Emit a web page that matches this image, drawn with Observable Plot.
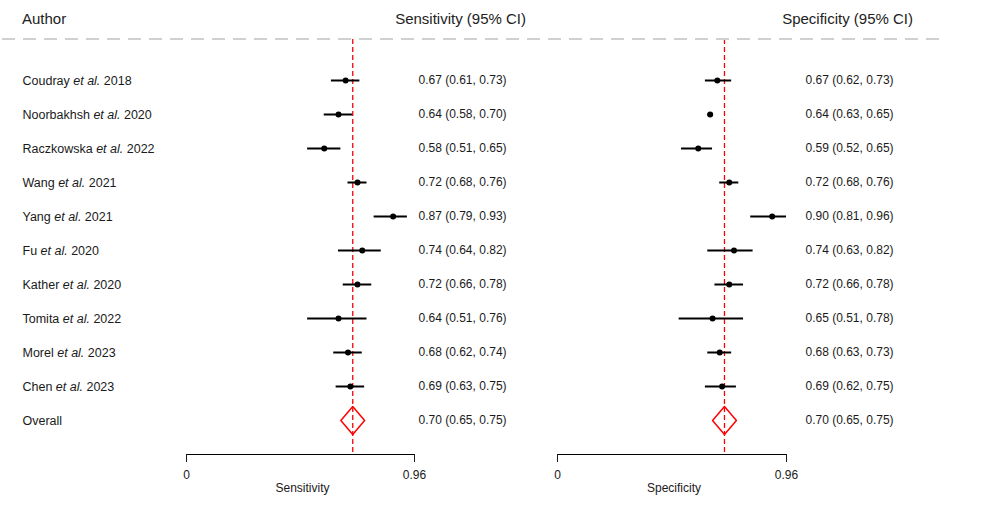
<!DOCTYPE html>
<html><head><meta charset="utf-8">
<script src="https://cdn.jsdelivr.net/npm/d3@7"></script>
<script src="https://cdn.jsdelivr.net/npm/@observablehq/plot@0.6"></script>
<style>
body{margin:0;background:#fff;font-family:"Liberation Sans",Arial,Helvetica,sans-serif;}
#wrap{position:relative;width:982px;height:508px;overflow:hidden;background:#fff;}
.panel{position:absolute;top:0;}
.hdr{position:absolute;top:11px;font-size:15px;color:#222;line-height:1;white-space:nowrap;z-index:2;}
#sep{position:absolute;left:2px;top:38px;width:942px;height:2px;z-index:2;
  background:repeating-linear-gradient(to right,#d0d0d0 0 13px,transparent 13px 21px);}
</style></head><body>
<div id="wrap">
  <div class="hdr" style="left:22px">Author</div>
  <div class="hdr" style="right:456px">Sensitivity (95% CI)</div>
  <div class="hdr" style="right:69px">Specificity (95% CI)</div>
  <div id="sep"></div>
</div>
<script>
// ---- data ----
const authors = ["Coudray et al. 2018","Noorbakhsh et al. 2020","Raczkowska et al. 2022","Wang et al. 2021","Yang et al. 2021","Fu et al. 2020","Kather et al. 2020","Tomita et al. 2022","Morel et al. 2023","Chen et al. 2023"];
const sensEst = [0.67,0.64,0.58,0.72,0.87,0.74,0.72,0.64,0.68,0.69];
const sensLo  = [0.61,0.58,0.51,0.68,0.79,0.64,0.66,0.51,0.62,0.63];
const sensHi  = [0.73,0.70,0.65,0.76,0.93,0.82,0.78,0.76,0.74,0.75];
const specEst = [0.67,0.64,0.59,0.72,0.90,0.74,0.72,0.65,0.68,0.69];
const specLo  = [0.62,0.63,0.52,0.68,0.81,0.63,0.66,0.51,0.63,0.62];
const specHi  = [0.73,0.65,0.65,0.76,0.96,0.82,0.78,0.78,0.73,0.75];
const overallLabel = "Overall";
const overallSens = [0.70,0.65,0.75]; // est, lo, hi
const overallSpec = [0.70,0.65,0.75];
const axisTicks = [0, 0.96];
const axisDomain = [0, 0.96];

const fmt = (e,l,h) => `${e.toFixed(2)} (${l.toFixed(2)}, ${h.toFixed(2)})`;
const FONT = '"Liberation Sans", Arial, Helvetica, sans-serif';

function panel({est, lo, hi, overall, label, width, ml, mr, valDx, showAuthors}) {
  const rows = authors.map((a,i) => ({author:a, i, est:est[i], lo:lo[i], hi:hi[i]}));
  const oi = authors.length;
  const yDomain = [0, oi + 1];
  const [oE, oL, oH] = overall;
  const dh = 0.41; // half-height of diamond in row units
  const diamond = [{x:oL,y:oi},{x:oE,y:oi-dh},{x:oH,y:oi},{x:oE,y:oi+dh},{x:oL,y:oi}];
  const orow = [{author:overallLabel, i:oi, est:oE, lo:oL, hi:oH}];
  const marks = [
    Plot.ruleX([oE], {stroke:"#ff0000", strokeWidth:1.3, strokeDasharray:"5,3"}),
    Plot.ruleY(rows, {y:"i", x1:"lo", x2:"hi", stroke:"black", strokeWidth:2}),
    Plot.dot(rows, {x:"est", y:"i", r:3, fill:"black", stroke:null}),
    Plot.line(diamond, {x:"x", y:"y", stroke:"#ff0000", strokeWidth:1.5, curve:"linear"}),
    Plot.text(rows.concat(orow), {y:"i", text:d => fmt(d.est,d.lo,d.hi), frameAnchor:"right", dx:valDx, textAnchor:"start", fontSize:12}),
    // axis baseline along the bottom of the y domain
    Plot.ruleY([yDomain[1]], {x1:axisDomain[0], x2:axisDomain[1], stroke:"black", strokeWidth:1}),
    Plot.axisX({ticks:axisTicks, tickFormat:d => String(d), tickSize:8, tickPadding:8, label:null, fontSize:12}),
    Plot.text([label], {frameAnchor:"bottom", dy:37, dx:2, fontSize:12})
  ];
  if (showAuthors) {
    marks.push(Plot.text(rows.concat(orow), {y:"i", text:"author", frameAnchor:"left", dx:-164, textAnchor:"start", fontSize:12.5}));
  }
  const svg = Plot.plot({
    width, height:508,
    marginLeft:ml, marginRight:mr, marginTop:39, marginBottom:54,
    style:{fontFamily:FONT, fontSize:"12px", color:"#1a1a1a", background:"transparent"},
    x:{domain:axisDomain},
    y:{domain:yDomain, range:[80, 454], axis:null},
    marks
  });
  // italicise "et al."
  svg.querySelectorAll("text").forEach(t => {
    const s = t.textContent;
    const k = s.indexOf("et al.");
    if (k < 0 || t.children.length) return;
    t.textContent = "";
    const ns = "http://www.w3.org/2000/svg";
    const a = document.createElementNS(ns,"tspan"); a.textContent = s.slice(0,k);
    const b = document.createElementNS(ns,"tspan"); b.textContent = "et al."; b.setAttribute("font-style","italic");
    const c = document.createElementNS(ns,"tspan"); c.textContent = s.slice(k+6);
    t.append(a,b,c);
  });
  return svg;
}

const wrap = document.getElementById("wrap");
const left = panel({est:sensEst, lo:sensLo, hi:sensHi, overall:overallSens, label:"Sensitivity",
  width:545, ml:186, mr:131, valDx:4, showAuthors:true});
left.classList.add("panel"); left.style.left = "0px";
const right = panel({est:specEst, lo:specLo, hi:specHi, overall:overallSpec, label:"Specificity",
  width:437, ml:12, mr:196, valDx:19, showAuthors:false});
right.classList.add("panel"); right.style.left = "545px";
wrap.appendChild(left); wrap.appendChild(right);
</script>
</body></html>
